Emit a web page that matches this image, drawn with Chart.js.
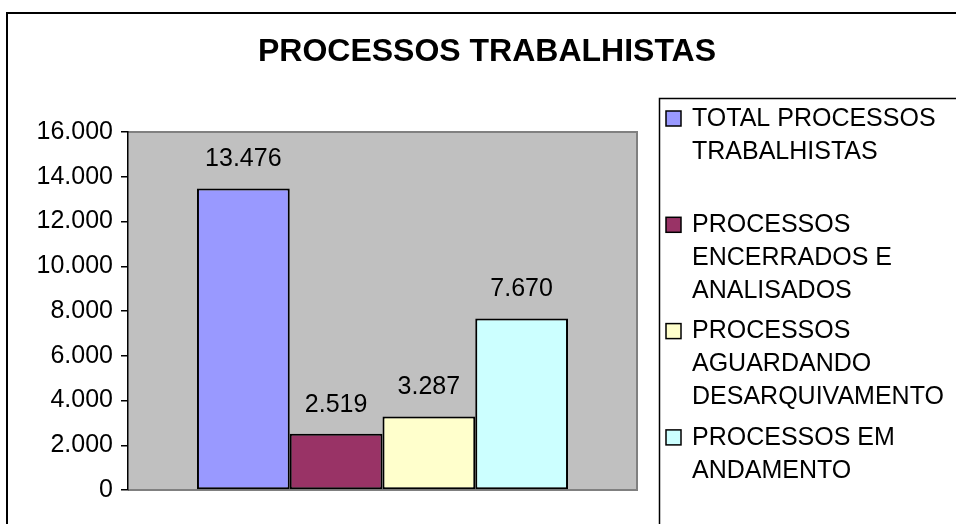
<!DOCTYPE html>
<html>
<head>
<meta charset="utf-8">
<script src="https://cdn.jsdelivr.net/npm/chart.js@4"></script>
<style>
  html, body { margin: 0; padding: 0; background: #fff; }
  #wrap { width: 956px; height: 524px; }
</style>
</head>
<body>
<div id="wrap"><canvas id="chart" width="956" height="524"></canvas></div>
<script>
// --- data ---
var chartTitle = "PROCESSOS TRABALHISTAS";
var seriesNames = [
  ["TOTAL PROCESSOS", "TRABALHISTAS"],
  ["PROCESSOS", "ENCERRADOS E", "ANALISADOS"],
  ["PROCESSOS", "AGUARDANDO", "DESARQUIVAMENTO"],
  ["PROCESSOS EM", "ANDAMENTO"]
];
var seriesValues = [13476, 2519, 3287, 7670];
var seriesColors = ["#9999FF", "#993366", "#FFFFCC", "#CCFFFF"];
var yTicks = [0, 2000, 4000, 6000, 8000, 10000, 12000, 14000, 16000];

var FONT = "'Liberation Sans', Arial, sans-serif";

// 13476 -> "13.476"
function fmt(n) {
  return String(Math.round(n)).replace(/\B(?=(\d{3})+(?!\d))/g, ".");
}

// --- excel style decorations: frame, title, plot fill, labels, legend ---
var decor = {
  id: "decor",
  beforeDraw: function (chart) {
    var ctx = chart.ctx, a = chart.chartArea;
    ctx.save();
    ctx.fillStyle = "#fff";
    ctx.fillRect(0, 0, chart.width, chart.height);
    // plot area
    ctx.fillStyle = "#C0C0C0";
    ctx.fillRect(a.left, a.top, a.right - a.left, a.bottom - a.top);
    ctx.strokeStyle = "#808080";
    ctx.lineWidth = 2;
    ctx.beginPath();
    ctx.moveTo(a.left, a.top);
    ctx.lineTo(a.right, a.top);
    ctx.lineTo(a.right, a.bottom);
    ctx.lineTo(a.left, a.bottom);
    ctx.stroke();
    ctx.restore();
  },
  afterDatasetsDraw: function (chart) {
    var ctx = chart.ctx;
    ctx.save();
    ctx.font = "25px " + FONT;
    ctx.fillStyle = "#000";
    ctx.textAlign = "center";
    ctx.textBaseline = "middle";
    chart.data.datasets.forEach(function (ds, i) {
      var bar = chart.getDatasetMeta(i).data[0];
      ctx.fillText(fmt(ds.data[0]), bar.x, bar.y - 29);
    });
    ctx.restore();
  },
  afterDraw: function (chart) {
    var ctx = chart.ctx;
    ctx.save();
    // outer frame
    ctx.strokeStyle = "#000";
    ctx.lineWidth = 2;
    ctx.strokeRect(7, 13, 960, 530);
    // title
    ctx.font = "bold 32px " + FONT;
    ctx.fillStyle = "#000";
    ctx.textAlign = "center";
    ctx.textBaseline = "middle";
    ctx.fillText(chartTitle, 487, 52);
    // legend box
    ctx.lineWidth = 1.5;
    ctx.strokeRect(659.5, 98.5, 400, 500);
    ctx.font = "25px " + FONT;
    ctx.textAlign = "left";
    chart.data.datasets.forEach(function (ds, i) {
      var y0 = 119 + i * 106.3;
      ctx.fillStyle = ds.backgroundColor;
      ctx.fillRect(666, y0 - 8, 15, 15);
      ctx.strokeStyle = "#000";
      ctx.lineWidth = 1.5;
      ctx.strokeRect(666, y0 - 8, 15, 15);
      ctx.fillStyle = "#000";
      ds.lines.forEach(function (ln, k) {
        ctx.fillText(ln, 692, y0 + k * 33);
      });
    });
    ctx.restore();
  }
};

var datasets = seriesValues.map(function (v, i) {
  return {
    label: seriesNames[i].join(" "),
    lines: seriesNames[i],
    data: [v],
    backgroundColor: seriesColors[i],
    borderColor: "#000",
    borderWidth: 2,
    borderSkipped: false,
    barPercentage: 1,
    categoryPercentage: 0.729
  };
});

new Chart(document.getElementById("chart"), {
  type: "bar",
  data: { labels: [""], datasets: datasets },
  plugins: [decor],
  options: {
    responsive: false,
    animation: false,
    layout: { padding: { left: 0, top: 132, right: 319, bottom: 34 } },
    plugins: {
      legend: { display: false },
      title: { display: false },
      tooltip: { enabled: false }
    },
    scales: {
      x: { display: false },
      y: {
        min: 0,
        max: 16000,
        afterFit: function (s) { s.width = 128; },
        afterBuildTicks: function (s) {
          s.ticks = yTicks.map(function (v) { return { value: v }; });
        },
        border: { color: "#000", width: 1.5 },
        grid: {
          drawOnChartArea: false,
          drawTicks: true,
          tickLength: 7,
          color: "#000",
          lineWidth: 1.5
        },
        ticks: {
          color: "#000",
          padding: 8,
          font: { family: FONT, size: 25 },
          callback: function (v) { return fmt(v); }
        }
      }
    }
  }
});
</script>
</body>
</html>
